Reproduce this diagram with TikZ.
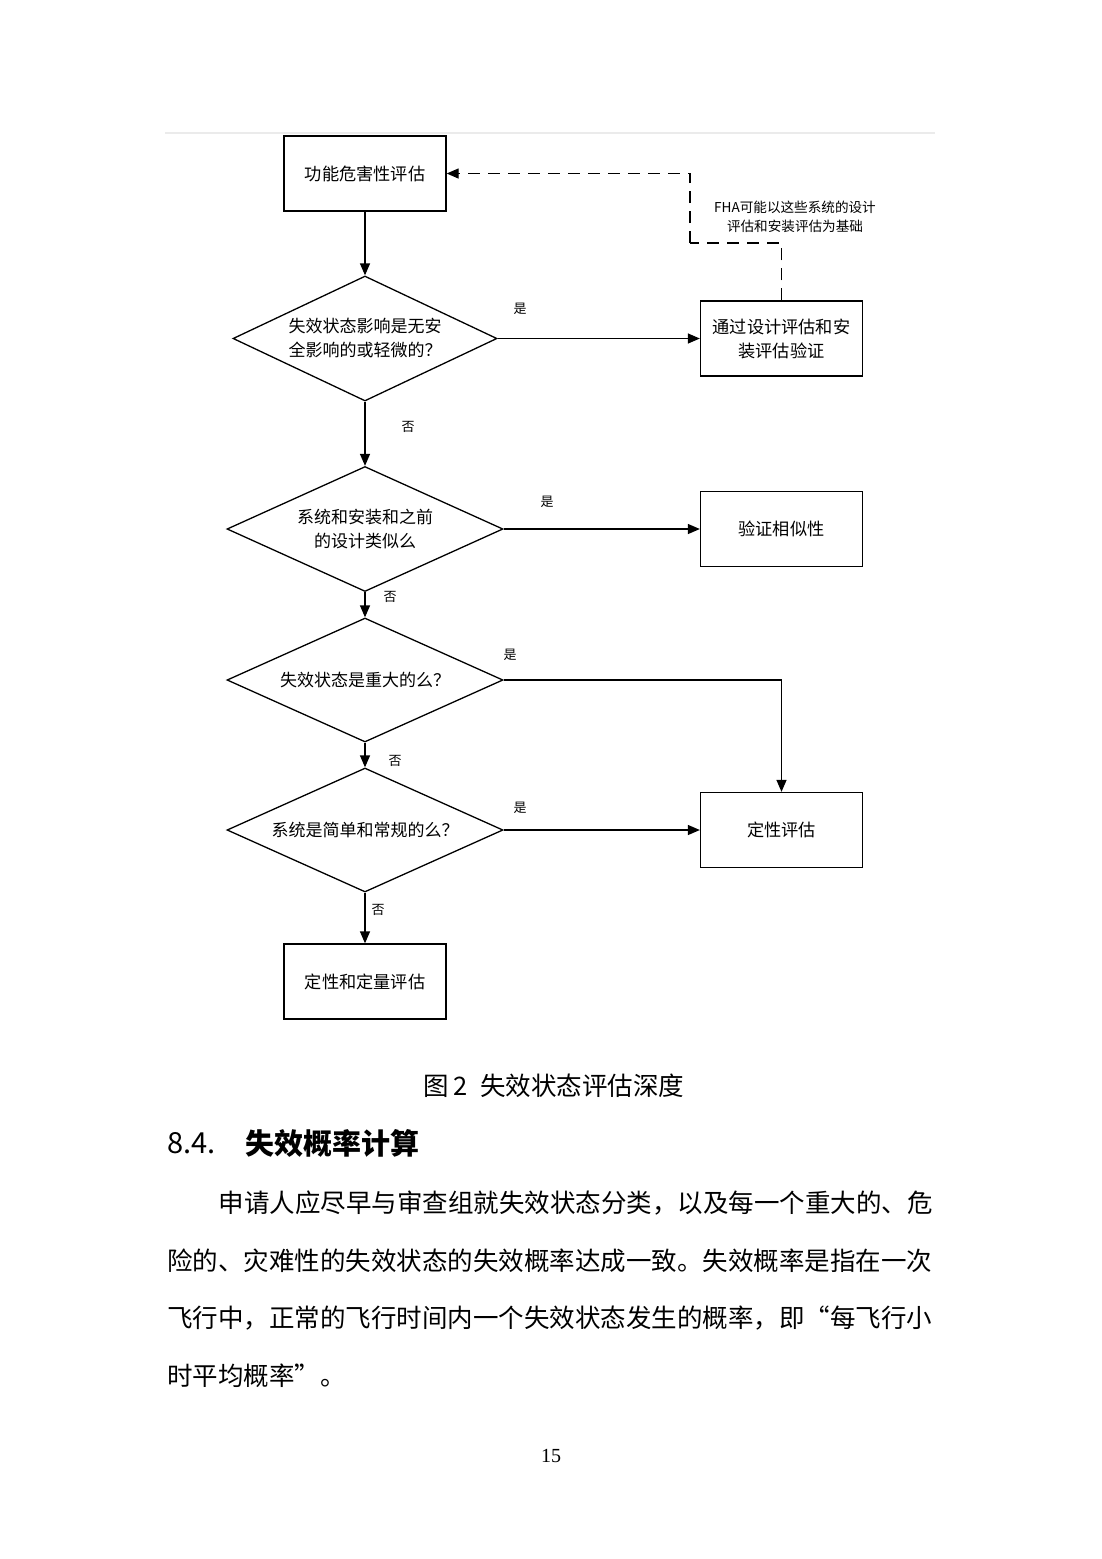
\documentclass[tikz,border=0pt]{standalone}
\usepackage{fontspec}
\setmainfont{Noto Sans CJK SC}
\newfontfamily\numfont{Liberation Serif}
\usetikzlibrary{shapes.geometric,arrows.meta}
\newcommand{\fwq}[1]{{\addfontfeature{CharacterWidth=Full}#1}}
\begin{document}
\begin{tikzpicture}[x=0.5pt,y=-0.5pt,
  box/.style={draw, line width=0.65pt, minimum width=81pt, minimum height=37.5pt,
    inner sep=0pt, align=center, font=\fontsize{8.6pt}{12pt}\selectfont},
  dia/.style={draw, diamond, aspect=2.2, line width=0.65pt, inner sep=0pt,
    align=center, font=\fontsize{8.5pt}{12pt}\selectfont},
  arr/.style={line width=0.65pt, -{Triangle[length=6pt,width=5pt]}},
  dsh/.style={line width=0.65pt, dash pattern=on 6pt off 4pt},
  lab/.style={font=\fontsize{6.5pt}{8pt}\selectfont, inner sep=0pt},
  body/.style={font=\fontsize{12.75pt}{14pt}\selectfont, inner sep=0pt, anchor=west},
]
\useasboundingbox (0,0) rectangle (1102,1559);
\fill[white] (0,0) rectangle (1102,1559);
% faint scan edge
\draw[black!8, line width=0.6pt] (165,133) -- (935,133);

% nodes
\node[box] (b1) at (365,173.5) {功能危害性评估};
\node[dia, minimum width=132pt, minimum height=62.5pt] (d1) at (365,338.5)
  {失效状态影响是无安\\全影响的或轻微的？};
\node[box] (b2) at (781.5,338.5) {通过设计评估和安\\装评估验证};
\node[dia, minimum width=138pt, minimum height=62.5pt] (d2) at (365,529)
  {系统和安装和之前\\的设计类似么};
\node[box] (b3) at (781.5,529) {验证相似性};
\node[dia, minimum width=138pt, minimum height=62pt] (d3) at (365,680)
  {失效状态是重大的么？};
\node[dia, minimum width=138pt, minimum height=62pt] (d4) at (365,830)
  {系统是简单和常规的么？};
\node[box] (b4) at (781.5,830) {定性评估};
\node[box] (b5) at (365,981.5) {定性和定量评估};

% connectors
\draw[arr] (b1.south) -- (d1.north);
\draw[arr] (d1.east) -- (b2.west);
\draw[arr] (d1.south) -- (d2.north);
\draw[arr] (d2.east) -- (b3.west);
\draw[arr] (d2.south) -- (d3.north);
\draw[arr] (d3.east) -| (b4.north);
\draw[arr] (d3.south) -- (d4.north);
\draw[arr] (d4.east) -- (b4.west);
\draw[arr] (d4.south) -- (b5.north);

% dashed feedback
\coordinate (c1) at (690,243);
\draw[dsh] (b2.north) |- (c1);
\draw[dsh, -{Triangle[length=6pt,width=5pt]}] (c1) |- (b1.east);
\node[font=\fontsize{6.8pt}{9.5pt}\selectfont, align=center, inner sep=0pt] (note) at (795,216.5)
  {FHA可能以这些系统的设计\\评估和安装评估为基础};

% yes/no labels
\node[lab] (y1) at (520,309) {是};
\node[lab] (n1) at (408,427) {否};
\node[lab] (y2) at (547,502) {是};
\node[lab] (n2) at (390,597) {否};
\node[lab] (y3) at (510,655) {是};
\node[lab] (n3) at (395,761) {否};
\node[lab] (y4) at (520,808) {是};
\node[lab] (n4) at (378,910) {否};

% caption and text
\node[font=\fontsize{12.75pt}{14pt}\selectfont, inner sep=0pt] (cap) at (554,1086) {图\hspace{2pt}2\hspace{6.5pt}失效状态评估深度};
\node[font=\fontsize{14.5pt}{16pt}\selectfont, inner sep=0pt, anchor=west] (h1) at (167,1143) {8.4.};
\node[font=\fontsize{14.5pt}{16pt}\selectfont\bfseries, inner sep=0pt, anchor=west] (h2) at (245,1143) {失效概率计算};
\node[body] (p1) at (218.5,1203) {申请人应尽早与审查组就失效状态分类，以及每一个重大的、危};
\node[body] (p2) at (167,1261) {险的、灾难性的失效状态的失效概率达成一致。失效概率是指在一次};
\node[body] (p3) at (167,1318) {飞行中，正常的飞行时间内一个失效状态发生的概率，即\fwq{“}每飞行小};
\node[body] (p4) at (167,1376) {时平均概率\fwq{”}。};
\node[font=\numfont\fontsize{10pt}{12pt}\selectfont, inner sep=0pt] (pg) at (551,1456) {15};
\end{tikzpicture}
\end{document}
